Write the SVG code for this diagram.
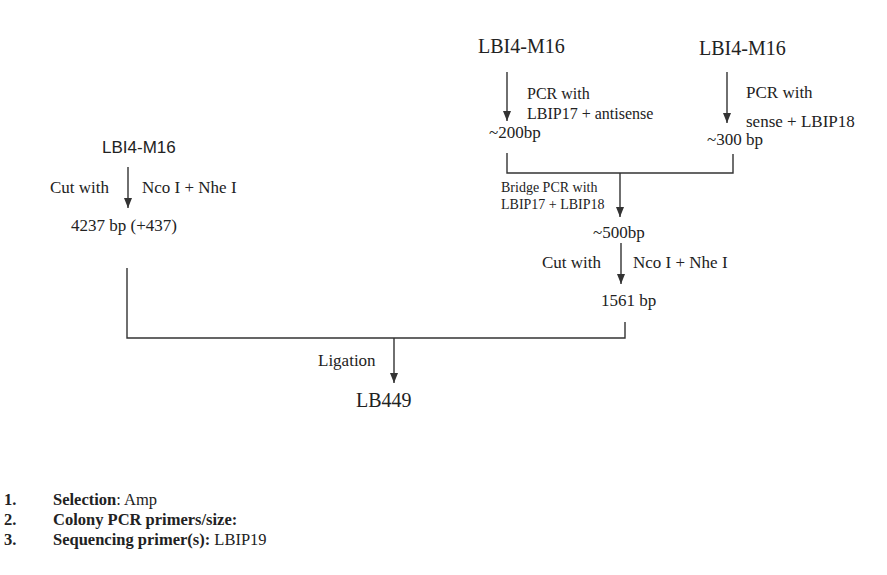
<svg xmlns="http://www.w3.org/2000/svg" width="887" height="575" viewBox="0 0 887 575">
<defs>
<marker id="ah" markerUnits="userSpaceOnUse" markerWidth="10" markerHeight="8" refX="10" refY="4" orient="auto">
<path d="M0,0 L10,4 L0,8 z" fill="#333"/>
</marker>
</defs>
<style>
text{font-family:"Liberation Serif","Times New Roman",serif;fill:#222;}
.big{font-size:20px;}
.m{font-size:17px;}
.s{font-size:16px;}
.xs{font-size:14px;}
.sans{font-family:"Liberation Sans",Arial,sans-serif;font-size:17px;}
.li{font-size:16.5px;}
.b{font-weight:bold;}
.ln{stroke:#333;stroke-width:1.4;fill:none;}
.ar{stroke:#333;stroke-width:1.4;fill:none;marker-end:url(#ah);}
</style>
<rect width="887" height="575" fill="#fff"/>
<g id="connectors">
<line class="ar" x1="507" y1="72" x2="507" y2="121"/>
<line class="ar" x1="727" y1="72" x2="727" y2="123"/>
<path class="ln" d="M507,153 V173 H733 V154"/>
<line class="ar" x1="620" y1="173" x2="620" y2="217"/>
<line class="ar" x1="621" y1="243" x2="621" y2="284"/>
<line class="ar" x1="128" y1="167" x2="128" y2="208"/>
<path class="ln" d="M127,268 V338 H625 V322"/>
<line class="ar" x1="394" y1="338" x2="394" y2="383"/>
</g>
<g id="n-lbi4-a"><text class="big" x="478" y="53">LBI4-M16</text></g>
<g id="n-lbi4-b"><text class="big" x="699" y="55">LBI4-M16</text></g>
<g id="l-pcr-a"><text class="s" x="527" y="99">PCR with</text><text class="s" x="527" y="119">LBIP17 + antisense</text></g>
<g id="l-pcr-b"><text class="m" x="746" y="98">PCR with</text><text class="m" x="746" y="127">sense + LBIP18</text></g>
<g id="n-200"><text class="m" x="489" y="138">~200bp</text></g>
<g id="n-300"><text class="m" x="707" y="145">~300 bp</text></g>
<g id="l-bridge"><text class="xs" x="501" y="192">Bridge PCR with</text><text class="xs" x="501" y="209">LBIP17 + LBIP18</text></g>
<g id="n-500"><text class="m" x="593" y="238">~500bp</text></g>
<g id="l-cut-r"><text class="m" x="542" y="268">Cut with</text><text class="m" x="633" y="268">Nco I + Nhe I</text></g>
<g id="n-1561"><text class="m" x="601" y="306">1561 bp</text></g>
<g id="n-lbi4-c"><text class="sans" x="102" y="153">LBI4-M16</text></g>
<g id="l-cut-l"><text class="m" x="50" y="193">Cut with</text><text class="m" x="142" y="193">Nco I + Nhe I</text></g>
<g id="n-4237"><text class="m" x="71" y="231">4237 bp (+437)</text></g>
<g id="l-lig"><text class="m" x="318" y="366">Ligation</text></g>
<g id="n-lb449"><text class="big" x="356" y="407">LB449</text></g>
<g id="list">
<text class="li b" x="4" y="505">1.</text>
<text class="li" x="53" y="505"><tspan class="b">Selection</tspan>: Amp</text>
<text class="li b" x="4" y="525">2.</text>
<text class="li b" x="53" y="525">Colony PCR primers/size:</text>
<text class="li b" x="4" y="545">3.</text>
<text class="li" x="53" y="545"><tspan class="b">Sequencing primer(s):</tspan>  LBIP19</text>
</g>
</svg>
